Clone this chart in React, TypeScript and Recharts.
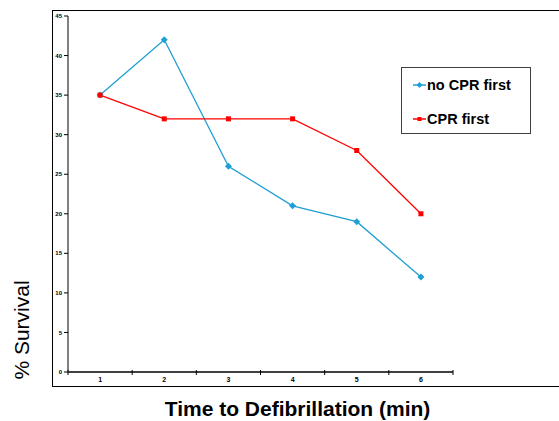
import { LineChart, Line, XAxis, YAxis } from "recharts";

const minutes = [1, 2, 3, 4, 5, 6];
const noCprFirst = [35, 42, 26, 21, 19, 12];
const cprFirst = [35, 32, 32, 32, 28, 20];
const yTicks = [0, 5, 10, 15, 20, 25, 30, 35, 40, 45];
// labels at whole minutes, short marks between categories
const xTicks = [0.5, 1, 1.5, 2, 2.5, 3, 3.5, 4, 4.5, 5, 5.5, 6, 6.5];
const seriesNames = ["no CPR first", "CPR first"];

const BLUE = "#1f9fd5";
const RED = "#ff0000";
const FONT = "'Liberation Sans', Arial, sans-serif";

const data = minutes.map((m, i) => ({
  minute: m,
  noCpr: noCprFirst[i],
  cpr: cprFirst[i],
}));

function Diamond(props: any) {
  const { cx, cy } = props;
  if (cx == null || cy == null) return null;
  return <polygon points={`${cx},${cy - 3.5} ${cx + 3.5},${cy} ${cx},${cy + 3.5} ${cx - 3.5},${cy}`} fill={BLUE} />;
}

function Square(props: any) {
  const { cx, cy } = props;
  if (cx == null || cy == null) return null;
  return <rect x={cx - 2.5} y={cy - 2.5} width={5} height={5} fill={RED} />;
}

function XTick(props: any) {
  const { x, y, payload } = props;
  const v = payload.value;
  if (!Number.isInteger(v)) {
    return <line x1={x} x2={x} y1={y - 2} y2={y + 3} stroke="#000" strokeWidth={1} />;
  }
  return (
    <text x={x} y={y + 10} textAnchor="middle" fontSize={7} fontWeight="bold" fontFamily={FONT} fill="#000">
      {v}
    </text>
  );
}

function LegendBox() {
  const items = [
    { label: seriesNames[0], color: BLUE, diamond: true },
    { label: seriesNames[1], color: RED, diamond: false },
  ];
  return (
    <div
      style={{
        position: "absolute",
        left: 401,
        top: 67,
        width: 130,
        height: 67,
        border: "1.5px solid #404040",
        background: "#fff",
        boxSizing: "border-box",
        paddingLeft: 11,
        paddingTop: 7,
      }}
    >
      {items.map((it, i) => (
        <div key={it.label} style={{ display: "flex", alignItems: "center", height: 20, marginBottom: i === 0 ? 14 : 0 }}>
          <svg width={13} height={10} style={{ marginRight: 1 }}>
            <line x1={0} x2={13} y1={5} y2={5} stroke={it.color} strokeWidth={1.5} />
            {it.diamond ? (
              <polygon points="6.5,2 9.5,5 6.5,8 3.5,5" fill={it.color} />
            ) : (
              <rect x={4.5} y={3} width={4} height={4} fill={it.color} />
            )}
          </svg>
          <span style={{ fontFamily: FONT, fontWeight: "bold", fontSize: 14.5, color: "#000" }}>{it.label}</span>
        </div>
      ))}
    </div>
  );
}

export default function App() {
  return (
    <div
      style={{
        position: "absolute",
        left: 0,
        top: 0,
        width: 559,
        height: 421,
        overflow: "hidden",
        background: "#fff",
      }}
    >
      <div
        style={{
          position: "absolute",
          left: 52,
          top: 10,
          width: 600,
          height: 377,
          border: "1.5px solid #000",
          boxSizing: "border-box",
        }}
      />
      <LineChart
        width={559}
        height={421}
        data={data}
        margin={{ top: 16, right: 106, bottom: 0, left: 0 }}
        style={{ position: "absolute", left: 0, top: 0 }}
      >
        <XAxis
          dataKey="minute"
          type="number"
          domain={[0.5, 6.5]}
          ticks={xTicks}
          interval={0}
          height={49}
          tickSize={0}
          tickMargin={0}
          tickLine={false}
          tick={<XTick />}
          axisLine={{ stroke: "#000", strokeWidth: 1.5 }}
          label={{
            value: "Time to Defibrillation (min)",
            position: "insideBottom",
            offset: 5,
            dx: 37,
            style: { fontFamily: FONT, fontWeight: "bold", fontSize: 21, fill: "#000" },
          }}
        />
        <YAxis
          type="number"
          domain={[0, 45]}
          ticks={yTicks}
          interval={0}
          width={68}
          tickSize={4}
          tickMargin={2}
          tickLine={{ stroke: "#000" }}
          axisLine={{ stroke: "#808080", strokeWidth: 2 }}
          tick={{ fontSize: 6, fontWeight: "bold", fontFamily: FONT, fill: "#000" }}
          label={{
            value: "% Survival",
            angle: -90,
            position: "insideLeft",
            offset: 22,
            dy: 136,
            style: { fontFamily: FONT, fontSize: 21, fill: "#000", textAnchor: "middle" },
          }}
        />
        <Line
          dataKey="noCpr"
          name={seriesNames[0]}
          stroke={BLUE}
          strokeWidth={1.3}
          dot={<Diamond />}
          activeDot={false}
          isAnimationActive={false}
        />
        <Line
          dataKey="cpr"
          name={seriesNames[1]}
          stroke={RED}
          strokeWidth={1.3}
          dot={<Square />}
          activeDot={false}
          isAnimationActive={false}
        />
      </LineChart>
      <LegendBox />
    </div>
  );
}
